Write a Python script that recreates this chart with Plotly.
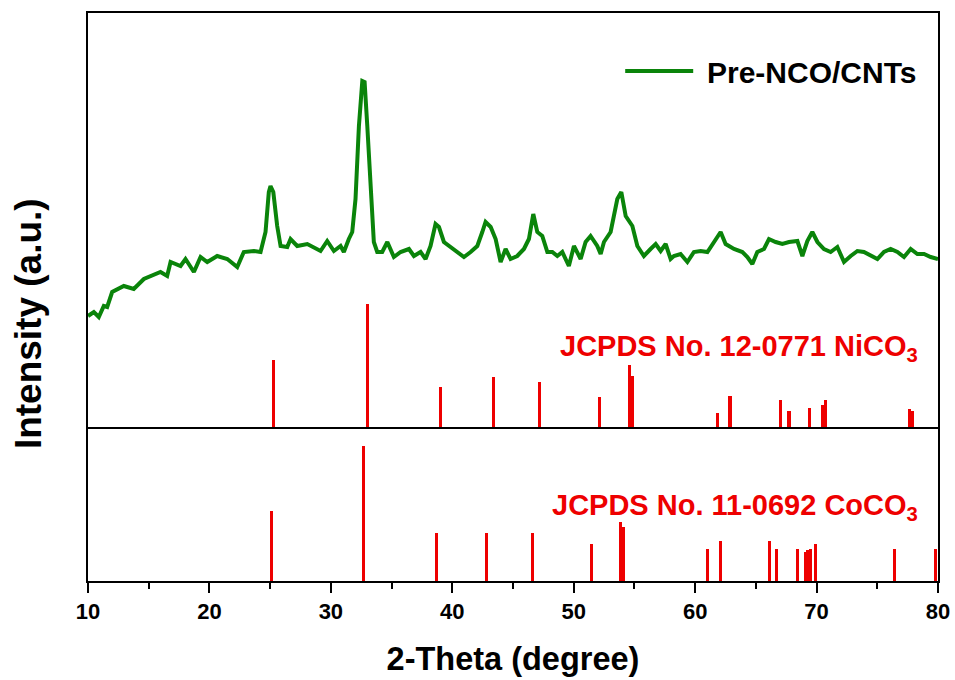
import plotly.graph_objects as go

# ---- Pre-NCO/CNTs XRD pattern ----
two_theta = [10.0, 10.48, 10.89, 11.30, 11.58, 11.99, 12.95, 13.77, 14.60, 15.15,
             15.97, 16.52, 16.80, 17.62, 18.03, 18.72, 19.27, 19.82, 20.64, 21.47,
             22.29, 22.83, 23.66, 24.21, 24.43, 24.62, 24.89, 25.03, 25.26, 25.58,
             25.86, 26.41, 26.68, 27.23, 28.06, 28.60, 29.15, 29.70, 30.25, 30.80,
             31.07, 31.48, 31.76, 32.03, 32.31, 32.59, 32.78, 33.00, 33.27, 33.54,
             33.82, 34.23, 34.65, 35.19, 35.74, 36.43, 36.84, 37.39, 37.80, 38.21,
             38.62, 38.90, 39.31, 39.86, 40.41, 40.96, 41.51, 42.06, 42.47, 42.74,
             43.16, 43.57, 43.98, 44.39, 44.80, 45.35, 45.90, 46.31, 46.67, 47.00,
             47.41, 47.83, 48.24, 48.65, 49.06, 49.60, 50.02, 50.57, 50.98, 51.39,
             51.94, 52.22, 52.49, 53.04, 53.59, 53.92, 54.28, 54.83, 55.24, 55.78,
             56.33, 56.75, 57.16, 57.57, 57.98, 58.25, 58.80, 59.36, 59.90, 60.45,
             61.01, 61.55, 62.10, 62.51, 63.20, 63.89, 64.30, 64.71, 65.12, 65.67,
             66.08, 66.63, 67.18, 67.73, 68.42, 68.83, 69.24, 69.65, 70.07, 70.61,
             71.16, 71.71, 72.26, 72.81, 73.36, 73.90, 74.46, 75.01, 75.55, 76.10,
             76.66, 77.20, 77.75, 78.30, 78.85, 79.40, 80.0]
intensity = [265, 269, 264, 275, 274, 289, 295, 292, 302, 305,
             309, 305, 319, 315, 322, 309, 324, 319, 325, 322,
             314, 329, 330, 329, 340, 349, 389, 395, 389, 355,
             335, 334, 342, 335, 337, 334, 330, 340, 330, 335,
             329, 342, 349, 382, 455, 500, 499, 455, 395, 339,
             329, 329, 339, 324, 329, 332, 325, 329, 322, 335,
             357, 354, 339, 334, 329, 324, 329, 335, 349, 359,
             354, 342, 319, 332, 322, 325, 332, 342, 367, 349,
             345, 329, 329, 325, 329, 315, 335, 322, 339, 345,
             335, 327, 339, 349, 382, 389, 365, 355, 335, 325,
             332, 337, 330, 337, 322, 325, 327, 319, 329, 330,
             329, 339, 349, 337, 332, 329, 324, 317, 329, 332,
             342, 339, 337, 339, 340, 325, 340, 349, 339, 332,
             329, 334, 319, 325, 330, 329, 325, 322, 329, 332,
             329, 324, 332, 327, 327, 324, 322]

# ---- Reference patterns ----
nico3_pos = [25.30, 33.05, 39.04, 43.38, 47.19, 52.13, 54.58, 54.88, 61.85,
             62.87, 67.02, 67.73, 69.41, 70.45, 70.77, 77.67, 77.89]
nico3_int = [68, 124, 41, 51, 46, 31, 63, 52, 15,
             32, 28, 17, 20, 23, 28, 19, 17]
coco3_pos = [25.09, 32.67, 38.68, 42.83, 46.64, 51.45, 53.86, 54.07, 61.05,
             62.10, 66.16, 66.69, 68.39, 69.10, 69.29, 69.46, 69.93, 76.38, 79.81]
coco3_int = [70, 135, 48, 48, 48, 37, 59, 54, 32,
             40, 40, 32, 32, 29, 31, 32, 37, 32, 32]

x_ticks = [10, 20, 30, 40, 50, 60, 70, 80]
NI_BASE = 153      # baseline of the NiCO3 panel
Y_MAX = 568

FONT = "Arial, 'Liberation Sans', sans-serif"
GREEN = "#0a840a"
RED = "#ee0000"

fig = go.Figure()
fig.add_trace(go.Scatter(x=two_theta, y=intensity, mode="lines",
                         line=dict(color=GREEN, width=4),
                         name="Pre-NCO/CNTs", showlegend=False))
fig.add_trace(go.Bar(x=nico3_pos, y=nico3_int, base=NI_BASE, width=0.25,
                     marker=dict(color=RED, line_width=0),
                     name="NiCO3", showlegend=False))
fig.add_trace(go.Bar(x=coco3_pos, y=coco3_int, base=0, width=0.25,
                     marker=dict(color=RED, line_width=0),
                     name="CoCO3", showlegend=False))

# panel divider
fig.add_shape(type="line", xref="paper", x0=0, x1=1, yref="y",
              y0=NI_BASE, y1=NI_BASE, line=dict(color="black", width=2))

# legend (manual, long line sample)
fig.add_shape(type="line", xref="paper", yref="paper",
              x0=0.632, x1=0.712, y0=0.898, y1=0.898,
              line=dict(color=GREEN, width=4))
fig.add_annotation(text="Pre-NCO/CNTs", xref="paper", yref="paper",
                   x=0.726, y=0.896, xanchor="left", yanchor="middle",
                   showarrow=False,
                   font=dict(family=FONT, size=30, color="black", weight="bold"))

fig.add_annotation(text="JCPDS No. 12-0771 NiCO<sub>3</sub>", xref="paper", yref="paper",
                   x=0.979, y=0.41, xanchor="right", yanchor="middle",
                   showarrow=False,
                   font=dict(family=FONT, size=29, color=RED, weight="bold"))
fig.add_annotation(text="JCPDS No. 11-0692 CoCO<sub>3</sub>", xref="paper", yref="paper",
                   x=0.979, y=0.13, xanchor="right", yanchor="middle",
                   showarrow=False,
                   font=dict(family=FONT, size=29, color=RED, weight="bold"))

fig.add_annotation(text="Intensity (a.u.)", xref="paper", yref="paper",
                   x=-0.0706, y=0.454, xanchor="center", yanchor="middle",
                   textangle=-90, showarrow=False,
                   font=dict(family=FONT, size=37, color="black", weight="bold"))

fig.update_layout(
    width=955, height=680,
    margin=dict(l=88, r=17, t=13, b=99, autoexpand=False),
    plot_bgcolor="white", paper_bgcolor="white",
    barmode="overlay", bargap=0,
    font=dict(family=FONT, color="black"),
    xaxis=dict(range=[10, 80], tickvals=x_ticks, ticktext=[str(t) for t in x_ticks],
               automargin=False,
               showline=True, linewidth=2, linecolor="black", mirror=True,
               ticks="outside", ticklen=10, tickwidth=2, tickcolor="black",
               tickfont=dict(family=FONT, size=22, color="black", weight="bold"),
               minor=dict(ticks="outside", ticklen=6, tickwidth=2, tickcolor="black",
                          tick0=5, dtick=10),
               showgrid=False, zeroline=False,
               title=dict(text="2-Theta (degree)", standoff=24,
                          font=dict(family=FONT, size=32.5, color="black", weight="bold"))),
    yaxis=dict(range=[0, Y_MAX], showline=True, linewidth=2, linecolor="black",
               automargin=False,
               mirror=True, ticks="", showticklabels=False,
               showgrid=False, zeroline=False),
)

fig.write_html("out.html",
               config={"displayModeBar": False},
               post_script="document.body.style.margin='0';"
                           "document.body.style.overflow='hidden';")
